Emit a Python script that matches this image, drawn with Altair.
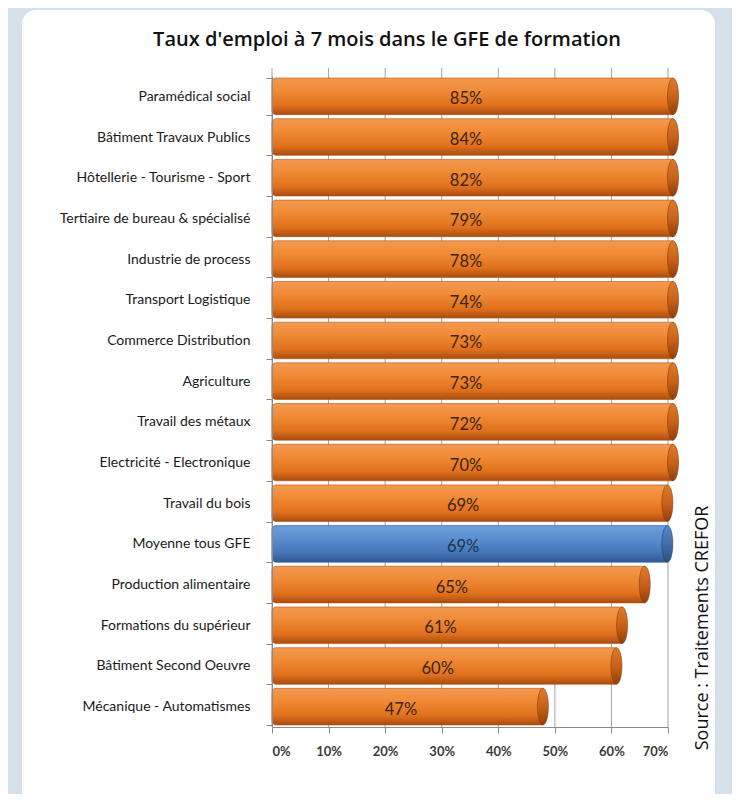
import altair as alt
import pandas as pd

categories = [
    "Paramédical social", "Bâtiment Travaux Publics", "Hôtellerie - Tourisme - Sport",
    "Tertiaire de bureau & spécialisé", "Industrie de process", "Transport Logistique",
    "Commerce Distribution", "Agriculture", "Travail des métaux",
    "Electricité - Electronique", "Travail du bois", "Moyenne tous GFE",
    "Production alimentaire", "Formations du supérieur", "Bâtiment Second Oeuvre",
    "Mécanique - Automatismes",
]
values = [0.85, 0.84, 0.82, 0.79, 0.78, 0.74, 0.73, 0.73, 0.72, 0.70, 0.69, 0.69,
          0.65, 0.61, 0.60, 0.47]
groups = ["GFE"] * 11 + ["Moyenne"] + ["GFE"] * 4
x_ticks = [0, 0.1, 0.2, 0.3, 0.4, 0.5, 0.6, 0.7]

df = pd.DataFrame({"cat": categories, "val": values, "grp": groups})
ticks_df = pd.DataFrame({"t": x_ticks})

W, H = 396, 651
FONT = "Lato"
CAP = ("M0,-1 C0.166,-1 0.3,-0.552 0.3,0 C0.3,0.552 0.166,1 0,1 "
       "C-0.166,1 -0.3,0.552 -0.3,0 C-0.3,-0.552 -0.166,-1 0,-1 Z")


def grad(stops):
    return alt.Gradient(gradient="linear", x1=0, y1=0, x2=0, y2=1,
                        stops=[alt.GradientStop(offset=o, color=c) for o, c in stops])


orange = grad([(0, "#f39a52"), (0.35, "#f08a35"), (0.75, "#e0701c"), (1, "#a94c10")])
blue = grad([(0, "#6d9ed9"), (0.35, "#5b8fd0"), (0.75, "#4474b5"), (1, "#2f5a92")])
orange_cap = grad([(0, "#e07a2a"), (0.5, "#c8621a"), (1, "#8f3f0c")])
blue_cap = grad([(0, "#5585c4"), (0.5, "#3f6fae"), (1, "#29507f")])

xscale = alt.Scale(domain=[0, 0.7], clamp=True, nice=False)
yenc = alt.Y("cat:N", sort=categories, title=None,
             scale=alt.Scale(paddingInner=0.1, paddingOuter=0.05),
             axis=alt.Axis(labelFont=FONT, labelFontSize=14, labelColor="#1a1a1a",
                           labelPadding=16, tickBand="extent", tickSize=6,
                           tickColor="#8a8a8a", domainColor="#8a8a8a",
                           labelLimit=300, zindex=1))
xaxis = alt.Axis(values=x_ticks, format=".0%", labelFont=FONT,
                 labelFontSize=13, labelFontWeight="bold",
                 labelColor="#3a3a3a", labelPadding=12,
                 tickSize=6, tickColor="#8a8a8a", domainColor="#8a8a8a",
                 grid=False, zindex=1)

panel = alt.Chart(pd.DataFrame({"a": [0]})).mark_rect(
    fill="white", cornerRadius=14
).encode(x=alt.value(-250), x2=alt.value(443), y=alt.value(-66), y2=alt.value(760))

grid = alt.Chart(ticks_df).mark_rule(color="#a3a3a3", strokeWidth=1).encode(
    x=alt.X("t:Q", scale=xscale, title=None, axis=xaxis),
    y=alt.value(-8), y2=alt.value(H),
)

base = alt.Chart(df).transform_calculate(zero="0")


def bar_layer(grp, fill, stroke):
    return base.transform_filter(f"datum.grp == '{grp}'").mark_bar(
        fill=fill, stroke=stroke, strokeWidth=0.6, x2Offset=5, cornerRadiusTopLeft=4,
        cornerRadiusBottomLeft=4
    ).encode(
        x=alt.X("zero:Q", scale=xscale, title=None),
        x2="val:Q",
        y=yenc,
    )


def cap_layer(grp, fill, stroke):
    return base.transform_filter(f"datum.grp == '{grp}'").mark_point(
        shape=CAP, filled=True, fill=fill, stroke=stroke, strokeWidth=0.6,
        size=1340, xOffset=5, opacity=1
    ).encode(x=alt.X("val:Q", scale=xscale, title=None), y=yenc)


bars_o = bar_layer("GFE", orange, "#b0520f")
bars_b = bar_layer("Moyenne", blue, "#2f5a92")
caps_o = cap_layer("GFE", orange_cap, "#8a3d08")
caps_b = cap_layer("Moyenne", blue_cap, "#22466f")

labels = base.transform_calculate(
    mid="min(datum.val, 0.7) / 2",
    lab="format(datum.val, '.0%')",
).mark_text(font=FONT, fontSize=16.5, baseline="middle", dy=3, dx=-4).encode(
    x=alt.X("mid:Q", scale=xscale, title=None),
    y=yenc,
    text="lab:N",
    color=alt.Color("grp:N", legend=None,
                    scale=alt.Scale(domain=["GFE", "Moyenne"],
                                    range=["#3b2410", "#1c3150"])),
)

title = alt.Chart(pd.DataFrame({"t": ["Taux d'emploi à 7 mois dans le GFE de formation"]})).mark_text(
    font="Open Sans", fontSize=20, fontWeight=600, color="#111111", align="center",
    baseline="middle"
).encode(x=alt.value(115), y=alt.value(-36), text="t:N")

source = alt.Chart(pd.DataFrame({"t": ["Source : Traitements CREFOR"]})).mark_text(
    font="Open Sans", fontSize=18, angle=270, color="#111111", align="center",
    baseline="middle"
).encode(x=alt.value(431), y=alt.value(552), text="t:N")

chart = alt.layer(panel, grid, bars_o, bars_b, caps_o, caps_b, labels, title, source).properties(
    width=W, height=H,
    padding={"left": 264, "top": 68, "right": 64, "bottom": 67},
    autosize=alt.AutoSizeParams(type="none"),
    background="#d5e1ea",
).configure_view(stroke=None)

chart.save("out.html", embed_options={"renderer": "svg", "actions": False})
